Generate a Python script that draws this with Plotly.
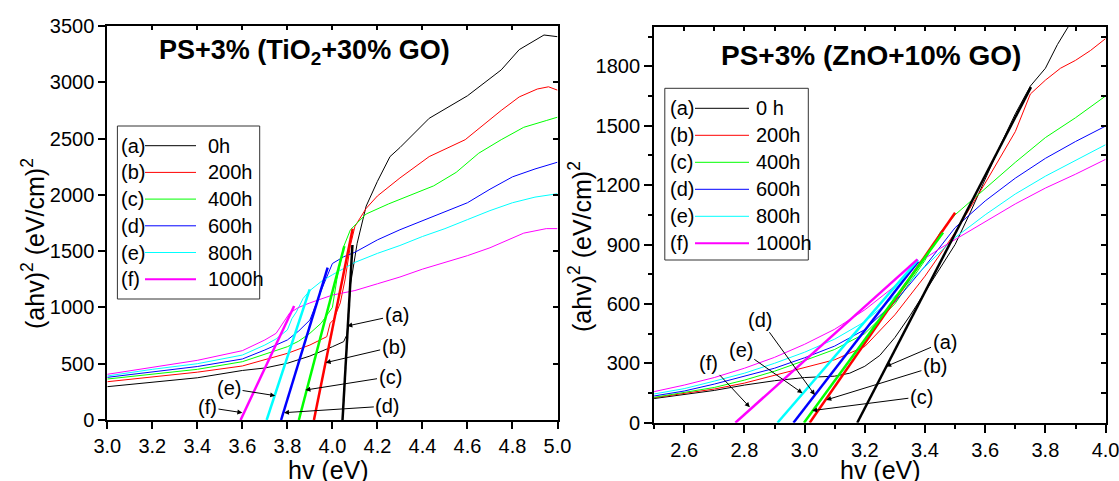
import plotly.graph_objects as go

W, H = 1119, 481
FONT = "Liberation Sans, Arial, sans-serif"

letters = ["(a)", "(b)", "(c)", "(d)", "(e)", "(f)"]
colors = ["#000000", "#FF0000", "#00FF00", "#0000FF", "#00FFFF", "#FF00FF"]
left_names = ["0h", "200h", "400h", "600h", "800h", "1000h"]
right_names = ["0 h", "200h", "400h", "600h", "800h", "1000h"]

# ---------------- Left panel: PS+3% (TiO2+30% GO) ----------------
tio2_a_x = [3.0, 3.2, 3.4, 3.6, 3.7, 3.8, 3.9, 4.0, 4.05, 4.065, 4.08, 4.11, 4.15, 4.2, 4.256, 4.3, 4.43, 4.6, 4.75, 4.83, 4.94, 5.0]
tio2_a_y = [296, 335, 375, 440, 462, 504, 568, 651, 696, 760, 1200, 1570, 1900, 2120, 2340, 2420, 2680, 2880, 3110, 3290, 3420, 3405]
tio2_b_x = [3.0, 3.2, 3.4, 3.6, 3.7, 3.8, 3.9, 3.975, 3.99, 4.005, 4.035, 4.056, 4.08, 4.1, 4.15, 4.2, 4.3, 4.43, 4.59, 4.75, 4.83, 4.91, 4.96, 5.0]
tio2_b_y = [340, 385, 425, 480, 533, 592, 666, 740, 860, 890, 1040, 1244, 1550, 1720, 1880, 1990, 2150, 2340, 2490, 2750, 2870, 2940, 2960, 2930]
tio2_c_x = [3.0, 3.2, 3.4, 3.6, 3.7, 3.8, 3.85, 3.9, 3.95, 4.0, 4.02, 4.05, 4.08, 4.15, 4.25, 4.35, 4.45, 4.55, 4.65, 4.75, 4.85, 4.95, 5.0]
tio2_c_y = [364, 410, 450, 518, 586, 651, 700, 770, 860, 1000, 1250, 1540, 1690, 1830, 1920, 2000, 2080, 2200, 2370, 2490, 2600, 2660, 2690]
tio2_d_x = [3.0, 3.2, 3.4, 3.6, 3.7, 3.8, 3.85, 3.9, 3.95, 4.0, 4.05, 4.1, 4.2, 4.3, 4.4, 4.5, 4.6, 4.7, 4.8, 4.9, 5.0]
tio2_d_y = [379, 430, 475, 542, 622, 711, 790, 888, 1150, 1390, 1450, 1490, 1600, 1690, 1770, 1850, 1930, 2050, 2160, 2230, 2290]
tio2_e_x = [3.0, 3.2, 3.4, 3.6, 3.7, 3.75, 3.8, 3.82, 3.84, 3.87, 3.9, 3.95, 4.0, 4.1, 4.2, 4.3, 4.4, 4.5, 4.6, 4.7, 4.8, 4.9, 5.0]
tio2_e_y = [391, 450, 500, 577, 666, 720, 800, 900, 960, 1080, 1150, 1230, 1290, 1400, 1480, 1550, 1630, 1700, 1780, 1860, 1930, 1980, 2010]
tio2_f_x = [3.0, 3.2, 3.4, 3.6, 3.7, 3.75, 3.78, 3.81, 3.85, 3.9, 4.0, 4.1, 4.2, 4.3, 4.4, 4.5, 4.6, 4.7, 4.8, 4.85, 4.9, 4.95, 5.0]
tio2_f_y = [406, 470, 530, 616, 711, 770, 860, 950, 1000, 1040, 1110, 1150, 1210, 1270, 1340, 1400, 1460, 1530, 1620, 1660, 1680, 1700, 1700]

# linear fits (tangents): intercept on the energy axis and top end point
tio2_fit_x0 = [4.045, 3.918, 3.851, 3.772, 3.708, 3.592]
tio2_fit_x1 = [4.089, 4.090, 4.053, 3.979, 3.899, 3.830]
tio2_fit_y1 = [1555, 1700, 1545, 1353, 1161, 1013]

# arrow annotations: label position, arrow tip
tio2_lab_x = [4.285, 4.272, 4.256, 4.244, 3.541, 3.445]
tio2_lab_y = [930, 651, 385, 124, 281, 112]
tio2_tip_x = [4.066, 3.970, 3.880, 3.785, 3.746, 3.600]
tio2_tip_y = [835, 509, 266, 65, 216, 65]

# ---------------- Right panel: PS+3% (ZnO+10% GO) ----------------
zno_a_x = [2.5, 2.6, 2.7, 2.8, 2.9, 3.0, 3.1, 3.15, 3.2, 3.25, 3.3, 3.35, 3.4, 3.45, 3.5, 3.55, 3.6, 3.65, 3.7, 3.75, 3.8, 3.84, 3.88]
zno_a_y = [122, 142, 163, 190, 212, 228, 235, 250, 285, 340, 430, 540, 660, 780, 900, 1060, 1230, 1400, 1560, 1700, 1790, 1910, 2010]
zno_b_x = [2.5, 2.6, 2.7, 2.8, 2.9, 3.0, 3.1, 3.2, 3.3, 3.4, 3.5, 3.6, 3.7, 3.75, 3.8, 3.85, 3.9, 3.95, 4.0]
zno_b_y = [126, 148, 170, 200, 240, 280, 318, 385, 545, 740, 960, 1210, 1470, 1660, 1730, 1790, 1830, 1880, 1940]
zno_c_x = [2.5, 2.6, 2.7, 2.8, 2.9, 3.0, 3.1, 3.2, 3.3, 3.4, 3.45, 3.5, 3.6, 3.7, 3.8, 3.9, 4.0]
zno_c_y = [128, 152, 178, 215, 260, 314, 370, 450, 600, 820, 960, 1050, 1185, 1315, 1440, 1540, 1650]
zno_d_x = [2.5, 2.6, 2.7, 2.8, 2.9, 3.0, 3.1, 3.2, 3.3, 3.4, 3.5, 3.6, 3.7, 3.8, 3.9, 4.0]
zno_d_y = [135, 160, 195, 235, 275, 328, 387, 470, 610, 790, 985, 1120, 1235, 1335, 1420, 1498]
zno_e_x = [2.5, 2.6, 2.7, 2.8, 2.9, 3.0, 3.1, 3.2, 3.3, 3.4, 3.5, 3.6, 3.7, 3.8, 3.9, 4.0]
zno_e_y = [145, 172, 210, 250, 300, 356, 422, 510, 640, 790, 935, 1050, 1155, 1245, 1325, 1404]
zno_f_x = [2.5, 2.6, 2.7, 2.8, 2.9, 3.0, 3.1, 3.2, 3.3, 3.38, 3.45, 3.5, 3.6, 3.7, 3.8, 3.9, 4.0]
zno_f_y = [157, 190, 228, 275, 330, 396, 472, 570, 690, 810, 880, 925, 1015, 1105, 1185, 1255, 1330]

zno_fit_x0 = [3.175, 3.017, 2.998, 2.963, 2.910, 2.770]
zno_fit_x1 = [3.752, 3.500, 3.460, 3.377, 3.377, 3.375]
zno_fit_y1 = [1695, 1060, 960, 814, 822, 825]

zno_lab_x = [3.465, 3.433, 3.388, 2.853, 2.788, 2.681]
zno_lab_y = [410, 284, 132, 520, 368, 301]
zno_tip_x = [3.271, 3.072, 3.025, 3.034, 2.993, 2.818]
zno_tip_y = [284, 115, 61, 140, 149, 78]

tio2_x = [tio2_a_x, tio2_b_x, tio2_c_x, tio2_d_x, tio2_e_x, tio2_f_x]
tio2_y = [tio2_a_y, tio2_b_y, tio2_c_y, tio2_d_y, tio2_e_y, tio2_f_y]
zno_x = [zno_a_x, zno_b_x, zno_c_x, zno_d_x, zno_e_x, zno_f_x]
zno_y = [zno_a_y, zno_b_y, zno_c_y, zno_d_y, zno_e_y, zno_f_y]

fig = go.Figure()

# thin measured curves
for i in range(6):
    fig.add_trace(go.Scatter(x=tio2_x[i], y=tio2_y[i], mode="lines",
                             line=dict(color=colors[i], width=1), xaxis="x", yaxis="y",
                             name=left_names[i], hoverinfo="skip"))
    fig.add_trace(go.Scatter(x=zno_x[i], y=zno_y[i], mode="lines",
                             line=dict(color=colors[i], width=1), xaxis="x2", yaxis="y2",
                             name=right_names[i], hoverinfo="skip"))
# thick fit lines
for i in range(6):
    fig.add_trace(go.Scatter(x=[tio2_fit_x0[i], tio2_fit_x1[i]], y=[0, tio2_fit_y1[i]], mode="lines",
                             line=dict(color=colors[i], width=2.5), xaxis="x", yaxis="y",
                             hoverinfo="skip"))
    fig.add_trace(go.Scatter(x=[zno_fit_x0[i], zno_fit_x1[i]], y=[0, zno_fit_y1[i]], mode="lines",
                             line=dict(color=colors[i], width=2.5), xaxis="x2", yaxis="y2",
                             hoverinfo="skip"))

# empty helper traces so the mirrored inward-tick axes are drawn
for xa, ya in [("x", "y3"), ("x3", "y"), ("x2", "y4"), ("x4", "y2")]:
    fig.add_trace(go.Scatter(x=[None], y=[None], mode="lines", xaxis=xa, yaxis=ya,
                             hoverinfo="skip", showlegend=False))

def px(xp):
    return xp / W

def py(yp):
    return 1 - yp / H

L_dom_x = [px(107.3), px(557.5)]
L_dom_y = [py(420), py(26)]
R_dom_x = [px(654.1), px(1105.6)]
R_dom_y = [py(422.7), py(26.7)]

tickfont = dict(family=FONT, size=20, color="black")
common = dict(showline=True, linewidth=2, linecolor="black", showgrid=False, zeroline=False,
              ticks="outside", tickwidth=2, tickcolor="black", tickfont=tickfont, automargin=False,
              ticklabeloverflow="allow")
hidden = dict(showticklabels=False, showline=False, showgrid=False, zeroline=False, automargin=False,
              tickwidth=2, tickcolor="black", ticks="inside")

fig.update_layout(
    width=W, height=H, autosize=False,
    margin=dict(l=0, r=0, t=0, b=0, pad=0),
    paper_bgcolor="white", plot_bgcolor="white",
    showlegend=False,
    font=dict(family=FONT, color="black"),
    xaxis=dict(domain=L_dom_x, anchor="y", range=[3.0, 5.0], tick0=3.0, dtick=0.2,
               tickformat=".1f", ticklen=7, mirror=True, **common),
    yaxis=dict(domain=L_dom_y, anchor="x", range=[0, 3500], tick0=0, dtick=500,
               ticklen=7, mirror=True, **common),
    yaxis3=dict(overlaying="y", side="right", anchor="x", range=[0, 3500], tick0=0, dtick=500,
                ticklen=5, **hidden),
    xaxis3=dict(overlaying="x", side="top", anchor="y", range=[3.0, 5.0], tick0=3.0, dtick=0.2,
                ticklen=4, **hidden),
    xaxis2=dict(domain=R_dom_x, anchor="y2", range=[2.5, 4.0], tick0=2.6, dtick=0.2,
                tickformat=".1f", ticklen=8, mirror=True,
                minor=dict(ticks="outside", ticklen=4, tick0=2.5, dtick=0.1, tickwidth=2, tickcolor="black"),
                **common),
    yaxis2=dict(domain=R_dom_y, anchor="x2", range=[0, 2000], tick0=0, dtick=300,
                ticklen=8, mirror=True,
                minor=dict(ticks="outside", ticklen=4, tick0=0, dtick=150, tickwidth=2, tickcolor="black"),
                **common),
    yaxis4=dict(overlaying="y2", side="right", anchor="x2", range=[0, 2000], tick0=0, dtick=150,
                ticklen=5, **hidden),
    xaxis4=dict(overlaying="x2", side="top", anchor="y2", range=[2.5, 4.0], tick0=2.5, dtick=0.1,
                ticklen=4, **hidden),
)

annotations = []
shapes = []

# titles
annotations.append(dict(xref="paper", yref="paper", x=px(304), y=py(52), text="<b>PS+3% (TiO<sub>2</sub>+30% GO)</b>",
                        showarrow=False, font=dict(family=FONT, size=27, color="black"), xanchor="center", yanchor="middle"))
annotations.append(dict(xref="paper", yref="paper", x=px(871), y=py(55), text="<b>PS+3% (ZnO+10% GO)</b>",
                        showarrow=False, font=dict(family=FONT, size=28, color="black"), xanchor="center", yanchor="middle"))
# axis titles
ytitle = "(ahv)<sup>2</sup> (eV/cm)<sup>2</sup>"
for xc, yc in [(33, 244), (580, 247)]:
    annotations.append(dict(xref="paper", yref="paper", x=px(xc), y=py(yc), text=ytitle, textangle=-90,
                            showarrow=False, font=dict(family=FONT, size=25, color="black"),
                            xanchor="center", yanchor="middle"))
for xc in [328, 880]:
    annotations.append(dict(xref="paper", yref="paper", x=px(xc), y=py(470), text="hv (eV)",
                            showarrow=False, font=dict(family=FONT, size=25, color="black"),
                            xanchor="center", yanchor="middle"))

# arrow labels
for i in range(6):
    annotations.append(dict(xref="x", yref="y", axref="x", ayref="y",
                            x=tio2_tip_x[i], y=tio2_tip_y[i], ax=tio2_lab_x[i], ay=tio2_lab_y[i],
                            text=letters[i], showarrow=True, arrowhead=2, arrowsize=1, arrowwidth=1,
                            arrowcolor="black", standoff=0, startstandoff=0,
                            font=dict(family=FONT, size=20, color="black")))
    annotations.append(dict(xref="x2", yref="y2", axref="x2", ayref="y2",
                            x=zno_tip_x[i], y=zno_tip_y[i], ax=zno_lab_x[i], ay=zno_lab_y[i],
                            text=letters[i], showarrow=True, arrowhead=2, arrowsize=1, arrowwidth=1,
                            arrowcolor="black", standoff=0, startstandoff=0,
                            font=dict(family=FONT, size=20, color="black")))

# custom legends
legend_specs = [
    # box x0,y0,x1,y1, letter x, line x0,x1, name x, first row y, row step, names
    (117.4, 126, 259.7, 299, 119, 145, 196, 206, 145.7, 26.7, left_names),
    (664.8, 88.3, 808.3, 260, 668, 695, 749, 754, 108.3, 27.0, right_names),
]
for (bx0, by0, bx1, by1, lx, lx0, lx1, nx, ry0, rstep, names) in legend_specs:
    shapes.append(dict(type="rect", xref="paper", yref="paper", x0=px(bx0), y0=py(by1), x1=px(bx1), y1=py(by0),
                       line=dict(color="#333333", width=1), fillcolor="rgba(0,0,0,0)", layer="above"))
    for i in range(6):
        yy = ry0 + i * rstep
        shapes.append(dict(type="line", xref="paper", yref="paper", x0=px(lx0), x1=px(lx1), y0=py(yy), y1=py(yy),
                           line=dict(color=colors[i], width=2 if i == 5 else 1), layer="above"))
        annotations.append(dict(xref="paper", yref="paper", x=px(lx), y=py(yy), text=letters[i], showarrow=False,
                                xanchor="left", yanchor="middle", font=dict(family=FONT, size=20, color="black")))
        annotations.append(dict(xref="paper", yref="paper", x=px(nx), y=py(yy), text=names[i], showarrow=False,
                                xanchor="left", yanchor="middle", font=dict(family=FONT, size=20, color="black")))

fig.update_layout(annotations=annotations, shapes=shapes)
fig.write_html("out.html")
